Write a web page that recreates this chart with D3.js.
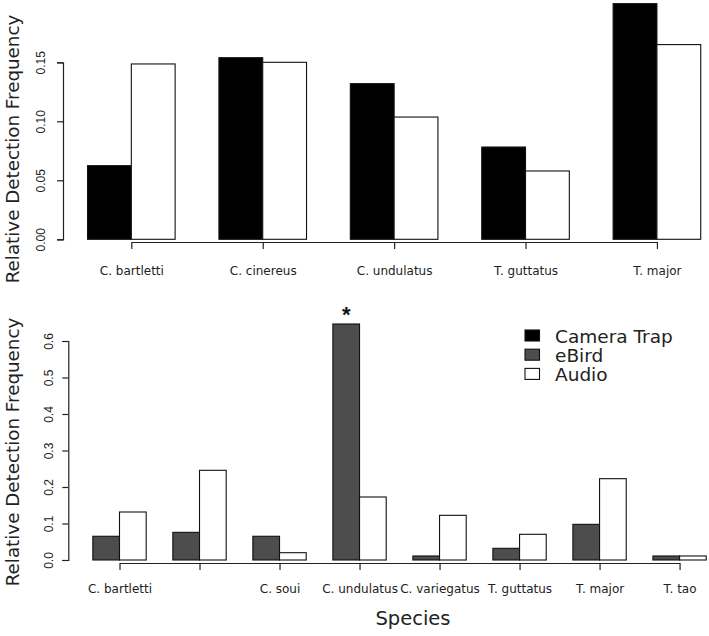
<!DOCTYPE html>
<html><head><meta charset="utf-8">
<script src="https://cdn.jsdelivr.net/npm/d3@7"></script>
<style>body{margin:0;background:#fff}svg{display:block}</style>
</head><body>
<script>
// ---- data ----
const topSpecies = ["C. bartletti","C. cinereus","C. undulatus","T. guttatus","T. major"];
const topCamera = [0.0624,0.1539,0.1319,0.0782,0.1997];
const topAudio  = [0.1486,0.1500,0.1036,0.0579,0.1650];
const topTicks = [0.00,0.05,0.10,0.15];

const botSpecies = ["C. bartletti","C. cinereus","C. soui","C. undulatus","C. variegatus","T. guttatus","T. major","T. tao"];
const botLabels  = ["C. bartletti","","C. soui","C. undulatus","C. variegatus","T. guttatus","T. major","T. tao"];
const botEBird = [0.065,0.0758,0.065,0.6466,0.011,0.032,0.0977,0.011];
const botAudio = [0.1315,0.2457,0.020,0.1726,0.1224,0.0704,0.2228,0.011];
const botTicks = [0.0,0.1,0.2,0.3,0.4,0.5,0.6];

const legendLabels = ["Camera Trap","eBird","Audio"];
const legendColors = ["#000000","#4d4d4d","#ffffff"];
const yTitle = "Relative Detection Frequency";
const xTitle = "Species";

const W=709,H=636;
const svg=d3.select("body").append("svg").attr("width",W).attr("height",H);
const catFont="'DejaVu Sans', sans-serif";
const tickFont="'Liberation Sans', Arial, sans-serif";

function panel(opts){
  const g=svg.append("g");
  const n=opts.cats.length;
  const span=3*n; // units: space 1 + 2 bars per group
  const pad=(span-1)*0.04;
  const x=d3.scaleLinear().domain([1-pad,span+pad]).range([opts.left,opts.left+(span-1+2*pad)*opts.unit]);
  const y=d3.scaleLinear().domain(opts.ydom).range([opts.base,opts.ytop]);
  // bars
  opts.series.forEach((s,si)=>{
    g.selectAll(null).data(s.values).enter().append("rect")
      .attr("x",(d,i)=>x(1+3*i+si))
      .attr("width",x(2)-x(1))
      .attr("y",d=>y(d))
      .attr("height",d=>y(0)-y(d))
      .attr("fill",s.color).attr("stroke","#111").attr("stroke-width",1.1);
  });
  // y axis
  const ya=g.append("g").attr("transform",`translate(${opts.left},0)`)
    .call(d3.axisLeft(y).tickValues(opts.yticks).tickFormat(opts.yfmt).tickSizeOuter(0).tickSize(6));
  ya.select(".domain").attr("stroke","#222").attr("stroke-width",1.2);
  ya.selectAll(".tick line").attr("stroke","#222").attr("stroke-width",1.2);
  ya.selectAll(".tick text").attr("transform","rotate(-90)")
    .attr("x",0).attr("y",-opts.ylabOff).attr("dy",0)
    .attr("text-anchor","middle").attr("font-family",tickFont).attr("font-size",12).attr("fill","#222");
  // x axis
  const xp=d3.scalePoint().domain(opts.cats).range([x(2),x(2+3*(n-1))]);
  const xa=g.append("g").attr("transform",`translate(0,${opts.xaxisY})`)
    .call(d3.axisBottom(xp).tickSize(7).tickSizeOuter(0).tickFormat((d,i)=>opts.labels[i]));
  xa.select(".domain").attr("stroke","#222").attr("stroke-width",1.2);
  xa.selectAll(".tick line").attr("stroke","#222").attr("stroke-width",1.2);
  xa.selectAll(".tick text").attr("y",opts.xlabOff).attr("dy",0)
    .attr("font-family",catFont).attr("font-size",12).attr("fill","#222");
  // y title
  g.append("text").attr("transform",`translate(${opts.ytitleX},${opts.ytitleY}) rotate(-90)`)
    .attr("text-anchor","middle").attr("font-family",catFont).attr("font-size",18.3).attr("fill","#222")
    .text(yTitle);
  return {x,y,g};
}

const topPanel=panel({cats:topSpecies,labels:topSpecies,left:63,unit:43.8,base:239.3,ytop:62.3,ydom:[0,0.15],
  yticks:topTicks,yfmt:d3.format(".2f"),ylabOff:18.5,xaxisY:242,xlabOff:33,
  series:[{values:topCamera,color:"#000000"},{values:topAudio,color:"#ffffff"}],
  ytitleX:18.5,ytitleY:149});

const botPanel=panel({cats:botSpecies,labels:botLabels,left:68.3,unit:26.67,base:560,ytop:341,ydom:[0,0.6],
  yticks:botTicks,yfmt:d3.format(".1f"),ylabOff:15,xaxisY:563,xlabOff:30,
  series:[{values:botEBird,color:"#4d4d4d"},{values:botAudio,color:"#ffffff"}],
  ytitleX:18.5,ytitleY:452});

// asterisk on max eBird
const imax=d3.maxIndex(botEBird);
botPanel.g.append("text").attr("x",(botPanel.x(1+3*imax)+botPanel.x(2+3*imax))/2).attr("y",botPanel.y(botEBird[imax])-2)
  .attr("text-anchor","middle").attr("font-family",tickFont).attr("font-size",22).attr("font-weight","bold")
  .attr("fill","#111").text("*");

// x title
svg.append("text").attr("x",413).attr("y",625).attr("text-anchor","middle")
  .attr("font-family",catFont).attr("font-size",19.5).attr("fill","#222").text(xTitle);

// legend
const lg=svg.append("g").attr("transform","translate(525,330)");
legendLabels.forEach((l,i)=>{
  lg.append("rect").attr("x",0).attr("y",i*19.2).attr("width",14.5).attr("height",11)
    .attr("fill",legendColors[i]).attr("stroke","#111").attr("stroke-width",1.1);
  lg.append("text").attr("x",30).attr("y",i*19.2+12.5).attr("font-family",catFont)
    .attr("font-size",18.5).attr("fill","#222").text(l);
});
</script>
</body></html>
